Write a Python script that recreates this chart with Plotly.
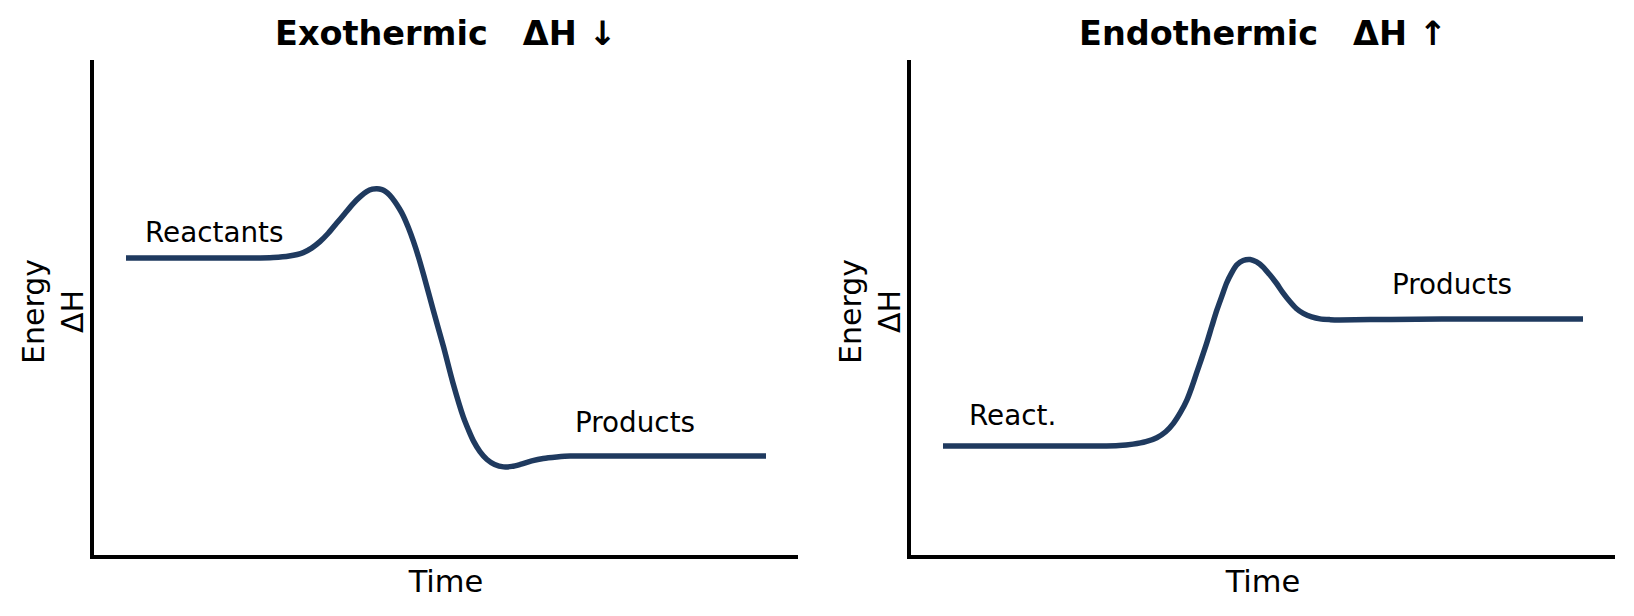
import plotly.graph_objects as go

# ---- data ----
exo_time = [0, 1, 1.5, 2.0, 2.3, 2.55, 2.77, 2.9, 3.03, 3.16, 3.29, 3.42, 3.55, 3.66, 3.76,
            3.85, 3.92, 4.0, 4.06, 4.12, 4.2, 4.27, 4.33, 4.41, 4.49, 4.57, 4.65, 4.80,
            4.96, 5.11, 5.27, 5.35, 5.43, 5.53, 5.64, 5.76, 5.90, 6.03, 6.16, 6.34, 6.52,
            6.73, 6.94, 7.5, 8.5, 10]
exo_energy = [6.0, 6.0, 6.0, 6.0, 6.01, 6.04, 6.11, 6.20, 6.33, 6.50, 6.70, 6.90, 7.10, 7.24, 7.34,
              7.39, 7.40, 7.38, 7.34, 7.27, 7.14, 7.00, 6.86, 6.62, 6.34, 6.02, 5.66, 4.95,
              4.21, 3.47, 2.79, 2.53, 2.30, 2.09, 1.93, 1.83, 1.78, 1.79, 1.83, 1.90, 1.95,
              1.98, 2.0, 2.0, 2.0, 2.0]

endo_time = [0, 1, 2, 2.45, 2.75, 2.97, 3.17, 3.34, 3.48, 3.60, 3.71, 3.81, 3.89, 3.96, 4.04,
             4.12, 4.20, 4.28, 4.36, 4.43, 4.51, 4.59, 4.69, 4.80, 4.90, 5.0, 5.1, 5.21, 5.31,
             5.42, 5.52, 5.63, 5.76, 5.89, 6.05, 6.20, 7, 8.5, 10]
endo_energy = [2.2, 2.2, 2.2, 2.2, 2.21, 2.24, 2.29, 2.37, 2.49, 2.66, 2.88, 3.13, 3.40, 3.67, 3.97,
               4.28, 4.62, 4.95, 5.24, 5.49, 5.70, 5.86, 5.95, 5.97, 5.92, 5.82, 5.67, 5.49, 5.30,
               5.12, 4.98, 4.88, 4.81, 4.77, 4.755, 4.75, 4.76, 4.77, 4.77]

titles = ["Exothermic\u00a0\u00a0\u00a0ΔH ↓", "Endothermic\u00a0\u00a0\u00a0ΔH ↑"]
x_label = "Time"
y_label = "Energy<br>ΔH"
exo_labels = [("Reactants", 0.27, 6.52), ("Products", 6.98, 2.67)]
endo_labels = [("React.", 0.37, 2.81), ("Products", 6.98, 5.46)]

LINE_COLOR = "#1f3a5f"
FONT = "DejaVu Sans"

fig = go.Figure()
fig.add_trace(go.Scatter(x=exo_time, y=exo_energy, mode="lines", xaxis="x", yaxis="y",
                         line=dict(color=LINE_COLOR, width=5.5, shape="spline", smoothing=0.8),
                         showlegend=False, hoverinfo="skip"))
fig.add_trace(go.Scatter(x=endo_time, y=endo_energy, mode="lines", xaxis="x2", yaxis="y2",
                         line=dict(color=LINE_COLOR, width=5.5, shape="spline", smoothing=0.8),
                         showlegend=False, hoverinfo="skip"))

W, H = 1634, 616
L, R, T, B = 94, 19, 60, 61
pw = W - L - R
ph = H - T - B
d1 = [0, 704 / pw]
d2 = [1 - 704 / pw, 1]

def paper_y(px_from_top):
    return (H - B - px_from_top) / ph

axis_common = dict(showgrid=False, zeroline=False, showticklabels=False, ticks="",
                   showline=True, linecolor="black", linewidth=3.5, mirror=False,
                   fixedrange=True)

fig.update_layout(
    width=W, height=H,
    margin=dict(l=L, r=R, t=T, b=B, autoexpand=False),
    paper_bgcolor="white", plot_bgcolor="white",
    font=dict(family=FONT, color="black"),
    xaxis=dict(domain=d1, range=[-0.5, 10.5], anchor="y",
               title=dict(text=x_label, font=dict(size=30.5), standoff=14), **axis_common),
    yaxis=dict(domain=[0, 1], range=[0, 10], anchor="x", **axis_common),
    xaxis2=dict(domain=d2, range=[-0.5, 10.5], anchor="y2",
                title=dict(text=x_label, font=dict(size=30.5), standoff=14), **axis_common),
    yaxis2=dict(domain=[0, 1], range=[0, 10], anchor="x2", **axis_common),
)

anns = []
for i, t in enumerate(titles):
    dom = d1 if i == 0 else d2
    anns.append(dict(text=t, x=(dom[0] + dom[1]) / 2, y=paper_y(33.5),
                     xref="paper", yref="paper", xanchor="center", yanchor="middle",
                     showarrow=False, font=dict(size=33.5, family=FONT, weight="bold")))
    # y-axis label (two lines, rotated)
    anns.append(dict(text=y_label, x=dom[0] - 41 / pw, y=paper_y(312),
                     xref="paper", yref="paper", xanchor="center", yanchor="middle",
                     textangle=-90, showarrow=False, font=dict(size=30, family=FONT)))
for txt, x, y in exo_labels:
    anns.append(dict(text=txt, x=x, y=y, xref="x", yref="y", xanchor="left", yanchor="middle",
                     showarrow=False, font=dict(size=27.8, family=FONT)))
for txt, x, y in endo_labels:
    anns.append(dict(text=txt, x=x, y=y, xref="x2", yref="y2", xanchor="left", yanchor="middle",
                     showarrow=False, font=dict(size=27.8, family=FONT)))
fig.update_layout(annotations=anns)

fig.write_html("out.html", config={"displayModeBar": False})
